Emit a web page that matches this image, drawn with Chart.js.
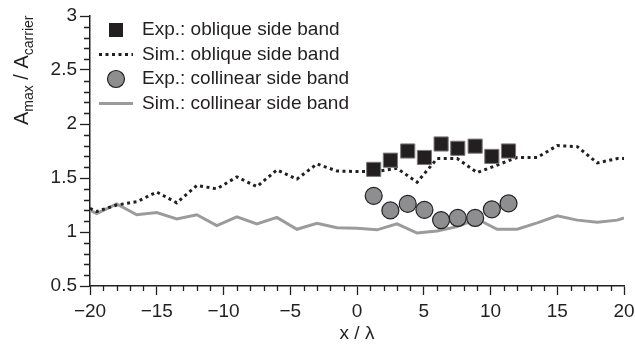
<!DOCTYPE html>
<html>
<head>
<meta charset="utf-8">
<style>
  html, body { margin: 0; padding: 0; background: #fff; }
  #wrap { width: 635px; height: 345px; position: relative; }
</style>
</head>
<body>
<div id="wrap"><canvas id="bandChart"></canvas></div>

<script src="https://cdn.jsdelivr.net/npm/chart.js"></script>
<script>
// simulated curves, sampled every 1.5 lambda
const simX = [-20, -19.5, -18, -16.5, -15, -13.5, -12, -10.5, -9, -7.5,
              -6, -4.5, -3, -1.5, 0, 1.5, 3, 4.5, 6, 7.5,
              9, 10.5, 12, 13.5, 15, 16.5, 18, 19.5, 20];
const simOblique = [1.22, 1.19, 1.25, 1.28, 1.37, 1.27, 1.43, 1.40, 1.51, 1.42,
                    1.575, 1.49, 1.63, 1.565, 1.56, 1.56, 1.59, 1.46, 1.68, 1.68,
                    1.55, 1.62, 1.69, 1.69, 1.80, 1.79, 1.64, 1.68, 1.68];
const simCollinear = [1.20, 1.17, 1.26, 1.16, 1.18, 1.12, 1.16, 1.06, 1.14, 1.075,
                      1.135, 1.025, 1.08, 1.04, 1.035, 1.02, 1.075, 0.99, 1.01, 1.05,
                      1.12, 1.025, 1.025, 1.085, 1.15, 1.11, 1.09, 1.11, 1.13];

// measurements
const expX = [1.25, 2.5, 3.8, 5.05, 6.3, 7.55, 8.85, 10.1, 11.35];
const expOblique = [1.58, 1.665, 1.75, 1.69, 1.815, 1.775, 1.795, 1.70, 1.75];
const expCollinear = [1.335, 1.20, 1.26, 1.205, 1.11, 1.13, 1.13, 1.21, 1.265];

const xTicks = [-20, -15, -10, -5, 0, 5, 10, 15, 20];
const yTicks = [0.5, 1, 1.5, 2, 2.5, 3];

const legendLabels = [
    "Exp.: oblique side band",
    "Sim.: oblique side band",
    "Exp.: collinear side band",
    "Sim.: collinear side band"
];

const INK = "#231f20";
const FONT = "'Liberation Sans', Arial, Helvetica, sans-serif";

const toPoints = (xs, ys) => xs.map((x, i) => ({ x: x, y: ys[i] }));

// minor ticks (1 on x, 0.1 on y)
const minorTicks = {
    id: "minorTicks",
    afterDraw(chart) {
        const { ctx, chartArea, scales } = chart;
        ctx.save();
        ctx.strokeStyle = INK;
        ctx.lineWidth = 1.3;
        ctx.beginPath();
        for (let v = -19; v <= 19; v++) {
            if (v % 5 === 0) continue;
            const px = Math.round(scales.x.getPixelForValue(v)) + 0.5;
            ctx.moveTo(px, chartArea.bottom);
            ctx.lineTo(px, chartArea.bottom + 5);
        }
        for (let i = 6; i <= 29; i++) {
            if (i % 5 === 0) continue;
            const py = Math.round(scales.y.getPixelForValue(i / 10)) + 0.5;
            ctx.moveTo(chartArea.left - 6, py);
            ctx.lineTo(chartArea.left, py);
        }
        ctx.stroke();
        ctx.restore();
    }
};

// y title with subscripts
const yTitle = {
    id: "yTitle",
    afterDraw(chart) {
        const ctx = chart.ctx;
        ctx.save();
        ctx.translate(28, 125);
        ctx.rotate(-Math.PI / 2);
        ctx.fillStyle = INK;
        ctx.textBaseline = "alphabetic";
        ctx.textAlign = "left";
        const parts = [
            ["A", 20, 0], ["max", 14, 5], [" / ", 20, 0], ["A", 20, 0], ["carrier", 14, 5]
        ];
        let x = 0;
        for (const [t, size, dy] of parts) {
            ctx.font = size + "px " + FONT;
            ctx.fillText(t, x, dy);
            x += ctx.measureText(t).width;
        }
        ctx.restore();
    }
};

// legend placed inside the plot, top left
const insideLegend = {
    id: "insideLegend",
    afterDraw(chart) {
        const ctx = chart.ctx;
        const rows = [30, 54.5, 79, 103.5];
        const sx = 116, tx = 142;
        ctx.save();
        // square
        ctx.fillStyle = INK;
        ctx.fillRect(sx - 7, rows[0] - 7, 14, 14);
        // dotted
        ctx.strokeStyle = INK;
        ctx.lineWidth = 3;
        ctx.setLineDash([3, 3.5]);
        ctx.beginPath();
        ctx.moveTo(99, rows[1]);
        ctx.lineTo(133, rows[1]);
        ctx.stroke();
        ctx.setLineDash([]);
        // circle
        ctx.fillStyle = "#8e8e90";
        ctx.lineWidth = 1.2;
        ctx.beginPath();
        ctx.arc(sx, rows[2], 8.5, 0, Math.PI * 2);
        ctx.fill();
        ctx.stroke();
        // gray line
        ctx.strokeStyle = "#9b9b9b";
        ctx.lineWidth = 3;
        ctx.beginPath();
        ctx.moveTo(99, rows[3]);
        ctx.lineTo(133, rows[3]);
        ctx.stroke();

        ctx.fillStyle = INK;
        ctx.font = "19px " + FONT;
        ctx.textBaseline = "middle";
        legendLabels.forEach((t, i) => ctx.fillText(t, tx, rows[i]));
        ctx.restore();
    }
};

Chart.defaults.font.family = FONT;
Chart.defaults.color = INK;

new Chart(document.getElementById("bandChart"), {
    type: "scatter",
    data: {
        datasets: [
            {
                label: legendLabels[0],
                data: toPoints(expX, expOblique),
                pointStyle: "rect",
                pointRadius: 10,
                backgroundColor: INK,
                borderColor: "#7a7a7a",
                borderWidth: 1,
                order: 1
            },
            {
                label: legendLabels[1],
                data: toPoints(simX, simOblique),
                showLine: true,
                pointRadius: 0,
                borderColor: INK,
                borderWidth: 3,
                borderDash: [3, 3.5],
                tension: 0,
                order: 2
            },
            {
                label: legendLabels[2],
                data: toPoints(expX, expCollinear),
                pointStyle: "circle",
                pointRadius: 8.5,
                backgroundColor: "#8e8e90",
                borderColor: INK,
                borderWidth: 1.2,
                order: 1
            },
            {
                label: legendLabels[3],
                data: toPoints(simX, simCollinear),
                showLine: true,
                pointRadius: 0,
                borderColor: "#9b9b9b",
                borderWidth: 3,
                tension: 0,
                order: 3
            }
        ]
    },
    options: {
        responsive: true,
        maintainAspectRatio: false,
        animation: false,
        layout: { padding: { top: 16, right: 10, bottom: 0, left: 0 } },
        plugins: {
            legend: { display: false },
            tooltip: { enabled: false }
        },
        scales: {
            x: {
                min: -20,
                max: 20,
                afterBuildTicks: (s) => { s.ticks = xTicks.map(v => ({ value: v })); },
                afterFit: (s) => { s.height = 59; s.paddingRight = 0; s.paddingLeft = 0; },
                grid: { drawOnChartArea: false, tickLength: 9, color: INK, tickWidth: 1.3 },
                border: { color: INK, width: 1.5 },
                ticks: {
                    padding: 5,
                    font: { size: 19 },
                    color: INK,
                    maxRotation: 0,
                    callback: (v) => String(v).replace("-", "\u2212")
                },
                title: { display: true, text: "x / \u03bb", font: { size: 19 }, color: INK, padding: 0 }
            },
            y: {
                min: 0.5,
                max: 3,
                afterBuildTicks: (s) => { s.ticks = yTicks.map(v => ({ value: v })); },
                afterFit: (s) => { s.width = 90; s.paddingTop = 0; s.paddingBottom = 0; },
                grid: { drawOnChartArea: false, tickLength: 10, color: INK, tickWidth: 1.3 },
                border: { color: INK, width: 1.5 },
                ticks: { padding: 3, font: { size: 19 }, color: INK, callback: (v) => String(v) }
            }
        }
    },
    plugins: [minorTicks, yTitle, insideLegend]
});
</script>
</body>
</html>
